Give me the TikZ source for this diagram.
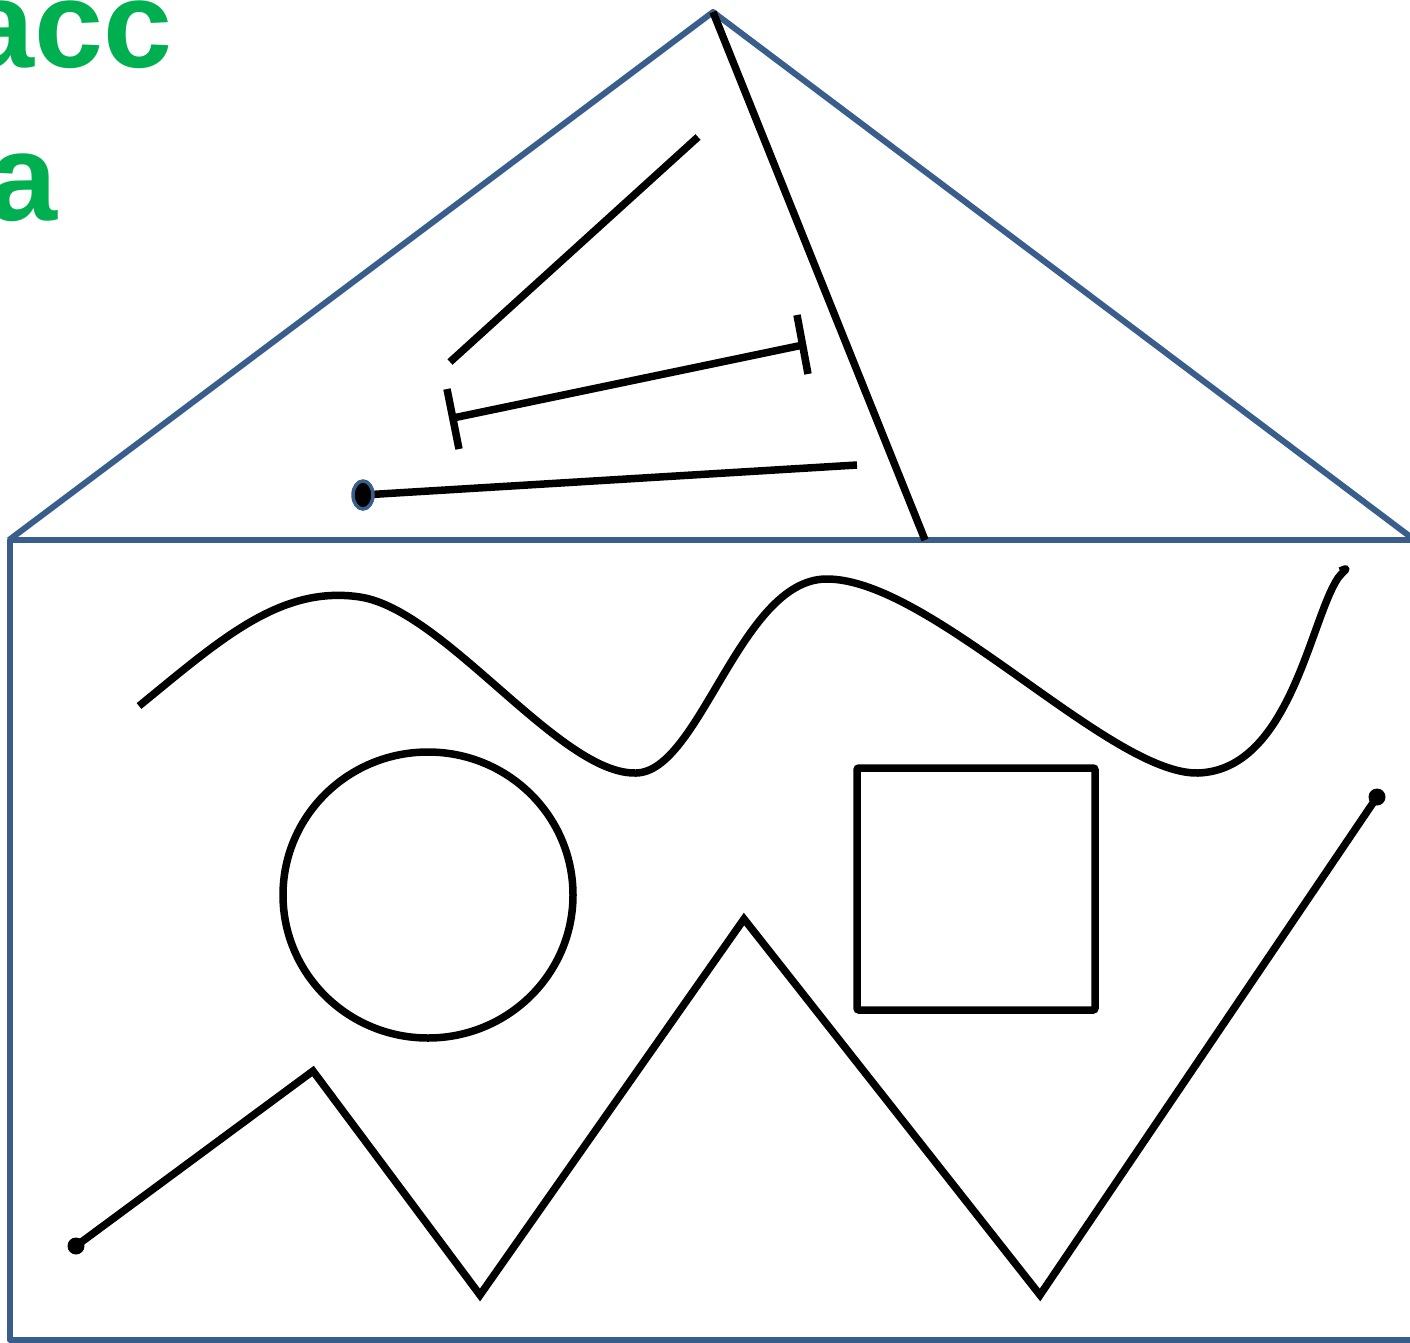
\documentclass[tikz,border=0pt]{standalone}
\usepackage{fontspec}
\setmainfont{Liberation Sans}
\usetikzlibrary{calc}
\definecolor{roofblue}{RGB}{58,94,139}
\definecolor{txtgreen}{RGB}{0,176,80}
\tikzset{
  blueline/.style={draw=roofblue,line width=6pt,line join=round},
  blackline/.style={draw=black,line width=7.5pt},
  greentext/.style={text=txtgreen,font=\bfseries\fontsize{124}{124}\selectfont,inner sep=0pt}
}
\begin{document}
\begin{tikzpicture}[x=1pt,y=-1pt]
\useasboundingbox (0,0) rectangle (1410,1343);
\clip (0,0) rectangle (1410,1343);
% text
\node[greentext,anchor=base east] (t1) at (173,68) {acc};
\node[greentext,anchor=base east] (t2) at (58,220) {a};
% house
\coordinate (apex) at (713,12);
\coordinate (rl) at (9,540);
\coordinate (rr) at (1412,538);
\draw[blueline] (rl) -- (apex) -- (rr);
\draw[blueline] (10,540) rectangle (1416,1340);
% black line from apex
\coordinate (ab) at (925,540);
\draw[blackline] (apex) -- (ab);
% diagonal line
\coordinate (d1) at (450,362);
\coordinate (d2) at (698,137);
\draw[blackline] (d1) -- (d2);
% bar line
\coordinate (b1) at (453,418);
\coordinate (b2) at (803,345);
\draw[blackline] (b1) -- (b2);
\draw[blackline] ($(b1)+(-6,-29)$) -- ($(b1)+(6,31)$);
\draw[blackline] ($(b2)+(-6,-30)$) -- ($(b2)+(5,29)$);
% dot line
\coordinate (o1) at (363,495);
\coordinate (o2) at (857,465);
\draw[blackline] (o1) -- (o2);
\fill[black,draw=roofblue,line width=3.5pt] (o1) ellipse [x radius=10pt,y radius=14pt];
% wave
\coordinate (w0) at (139,706);
\coordinate (w1) at (360,597);
\coordinate (w2) at (636,773);
\coordinate (w3) at (826,579);
\coordinate (w4) at (1198,773);
\coordinate (w5) at (1338,578);
\draw[blackline,line join=round] (w0) .. controls (220,640) and (280,585) .. (w1)
  .. controls (445,610) and (560,775) .. (w2)
  .. controls (700,772) and (740,580) .. (w3)
  .. controls (930,578) and (1110,775) .. (w4)
  .. controls (1290,770) and (1310,620) .. (w5)
  .. controls (1344,570) and (1352,566) .. (1340,571);
% circle
\coordinate (cc) at (428,895);
\draw[blackline] (cc) ellipse [x radius=145pt,y radius=143pt];
% square
\draw[blackline,rounded corners=2pt] (857,768) rectangle (1095,1010);
% zigzag
\coordinate (z0) at (76,1246);
\coordinate (z1) at (313,1071);
\coordinate (z2) at (480,1295);
\coordinate (z3) at (744,919);
\coordinate (z4) at (1040,1295);
\coordinate (z5) at (1377,797);
\draw[blackline] (z0) -- (z1) -- (z2) -- (z3) -- (z4) -- (z5);
\fill (z0) circle (8.5pt);
\fill (z5) circle (8.5pt);
\end{tikzpicture}
\end{document}
